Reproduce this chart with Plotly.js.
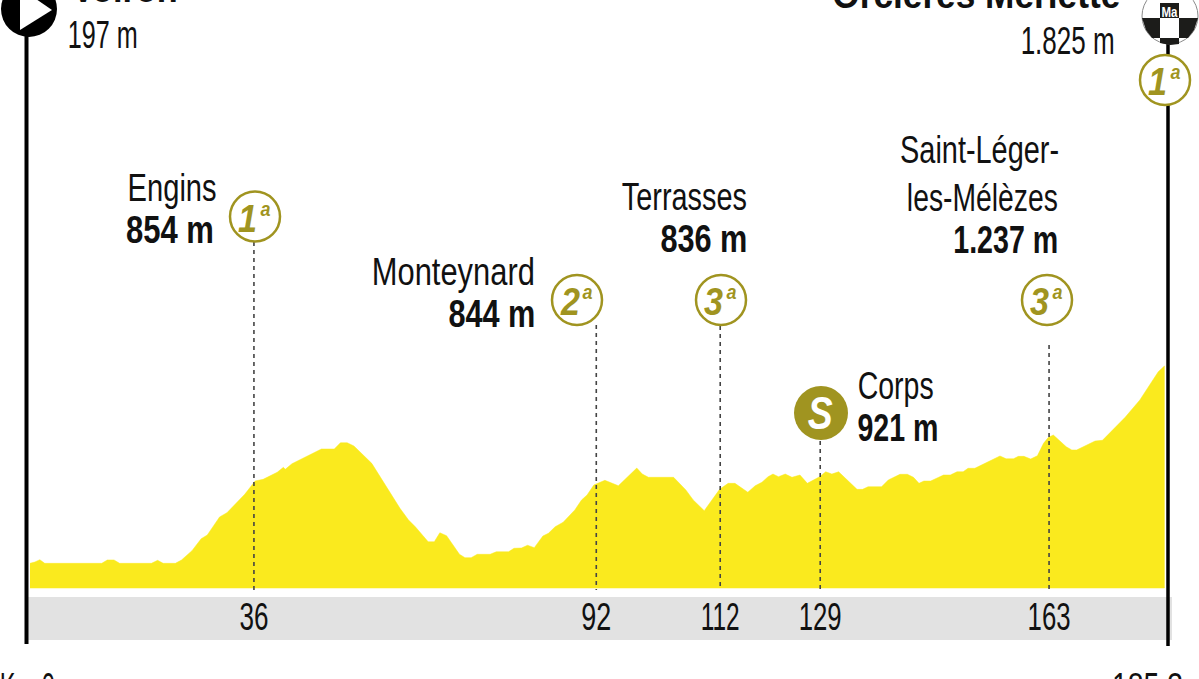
<!DOCTYPE html>
<html>
<head>
<meta charset="utf-8">
<style>
  html, body { margin: 0; padding: 0; background: #fff; overflow: hidden; }
  #data { width: 1199px; height: 679px; }
</style>
<script src="https://cdn.plot.ly/plotly-3.0.1.min.js"></script>
</head>
<body>
<div id="data"></div>
<script>
// profile: distance (km) and altitude (m)
var profileKm = [0, 0.8, 1.6, 2.4, 11.7, 12.6, 13.7, 14.6, 19.8, 20.8, 21.7, 23.7, 24.7, 26.4, 27.9, 28.9, 30.9, 32.1, 35.0, 36.7,
  38.0, 40.3, 41.3, 41.6, 42.7, 47.5, 49.6, 50.6, 51.7, 52.8, 55.7, 58.7, 60.3, 61.7, 62.8, 64.9, 65.9, 66.8, 67.9, 70.0,
  70.9, 71.9, 72.9, 75.0, 76.0, 78.0, 78.9, 80.1, 81.1, 82.2, 83.6, 84.5, 85.6, 86.9, 88.8, 89.9, 90.8, 91.9, 93.7, 95.9,
  98.9, 99.8, 100.8, 104.9, 106.9, 108.1, 109.9, 112.4, 113.8, 114.9, 117.0, 118.2, 119.3, 120.3, 121.1, 122.0, 123.1, 124.2, 125.5, 126.7,
  128.7, 129.7, 130.7, 131.8, 134.8, 135.7, 136.6, 138.8, 139.9, 141.8, 143.0, 144.0, 144.9, 145.7, 146.8, 148.9, 150.0, 151.1, 152.1, 152.9,
  154.0, 158.1, 159.1, 160.3, 161.1, 162.0, 163.1, 164.2, 165.2, 166.0, 166.8, 168.9, 169.8, 170.6, 173.6, 174.8, 178.5, 180.9, 183.9, 184.9];
var profileAlt = [186, 197, 216, 186, 186, 214, 214, 186, 186, 211, 186, 186, 214, 291, 390, 421, 571, 606, 759, 870,
  883, 942, 983, 966, 1013, 1135, 1135, 1187, 1187, 1160, 1016, 780, 643, 546, 490, 365, 365, 440, 415, 261,
  233, 233, 261, 261, 282, 282, 311, 313, 336, 316, 413, 435, 490, 527, 629, 712, 753, 836, 875, 830,
  977, 927, 900, 900, 795, 712, 623, 800, 850, 850, 776, 830, 859, 905, 927, 905, 927, 900, 919, 850,
  905, 946, 927, 946, 800, 800, 822, 822, 878, 925, 925, 900, 850, 869, 869, 919, 919, 946, 946, 975,
  975, 1077, 1054, 1054, 1074, 1074, 1052, 1079, 1182, 1232, 1251, 1154, 1127, 1127, 1201, 1207, 1398, 1542, 1776, 1824];

// waypoints along the profile
var wayKm = [36.5, 92.3, 112.5, 128.8, 166.1];
var wayLabels = ['36', '92', '112', '129', '163'];

var startName = 'Voiron';
var startAlt = '197 m';
var finishName = 'Orcières Merlette';
var finishAlt = '1.825 m';
var distanceStart = 'Km 0';
var distanceEnd = '185,3';

var passNames = ['Engins', 'Monteynard', 'Terrasses', 'Saint-Léger-', 'les-Mélèzes', 'Corps'];
var passAlts = ['854 m', '844 m', '836 m', '1.237 m', '921 m'];
var climbCats = ['1', '2', '3', '3', '1'];

var WIDTH = 1199;
var HEIGHT = 679;
var BASE_ALT = -19;
var FONT = '"Liberation Sans", Arial, sans-serif';
var GOLD = '#a09420';
var INK = '#111111';

// widths the texts get squeezed to, the reference face is very condensed
var textWidths = [];
var tickWidths = [29, 30, 39, 43, 43];

function px_x(value) { return value / WIDTH; }
function px_y(value) { return 1 - value / HEIGHT; }

// left and right are the ink edges of the text in the page
function text_at(text, left, right, y, size, opts) {
  opts = opts || {};
  textWidths.push(right - left);
  return {
    text: text,
    xref: 'paper',
    yref: 'paper',
    x: px_x((left + right) / 2),
    y: px_y(y),
    xanchor: 'center',
    yanchor: 'middle',
    showarrow: false,
    borderpad: 0,
    font: {
      family: FONT,
      size: size,
      color: opts.color || INK,
      weight: opts.weight || 400,
      style: opts.style || 'normal'
    }
  };
}

function bold_at(text, left, right, y, size) {
  return text_at(text, left, right, y, size, { weight: 700 });
}

function line_at(x0, y0, x1, y1, color, width) {
  return {
    type: 'line',
    xref: 'paper',
    yref: 'paper',
    x0: px_x(x0),
    y0: px_y(y0),
    x1: px_x(x1),
    y1: px_y(y1),
    line: { color: color, width: width }
  };
}

function circle_at(cx, cy, r, fill, color, width) {
  return {
    type: 'circle',
    xref: 'paper',
    yref: 'paper',
    x0: px_x(cx - r),
    y0: px_y(cy - r),
    x1: px_x(cx + r),
    y1: px_y(cy + r),
    fillcolor: fill,
    line: { color: color, width: width }
  };
}

function poly_at(points, fill) {
  var path = points.map(function (p, i) {
    var cmd = (i === 0 ? 'M' : 'L');
    return cmd + ' ' + px_x(p[0]) + ',' + px_y(p[1]);
  }).join(' ') + ' Z';
  return {
    type: 'path',
    xref: 'paper',
    yref: 'paper',
    path: path,
    fillcolor: fill,
    line: { width: 0 }
  };
}

function dash_stem(km, top) {
  return {
    type: 'line',
    xref: 'x',
    yref: 'paper',
    x0: km,
    x1: km,
    y0: px_y(top),
    y1: px_y(590),
    line: { color: '#444444', width: 1.6, dash: '4px 4px' }
  };
}

// category number and the small "a" next to it
function badge_text(cat, cx, cy) {
  return [
    text_at(cat, cx - 17, cx + 2, cy + 1, 38, { color: GOLD, weight: 700, style: 'italic' }),
    text_at('a', cx + 5, cx + 15, cy - 9, 20, { color: GOLD, weight: 700, style: 'italic' })
  ];
}

var shapes = [
  // grey distance band
  {
    type: 'rect', xref: 'paper', yref: 'paper', layer: 'below',
    x0: px_x(28), x1: px_x(1172), y0: px_y(597), y1: px_y(640),
    fillcolor: '#e2e2e2', line: { width: 0 }
  },
  dash_stem(wayKm[0], 242),
  dash_stem(wayKm[1], 325),
  dash_stem(wayKm[2], 326),
  dash_stem(wayKm[3], 441),
  dash_stem(wayKm[4], 345),
  line_at(26.5, 30, 26.5, 644, '#000000', 4),
  line_at(1168, 40, 1168, 646, '#000000', 3.5),
  // start icon
  circle_at(29, 9, 28, '#000000', '#000000', 0),
  poly_at([[20, -12], [52, 10], [20, 30]], '#ffffff'),
  // finish icon
  circle_at(1170, 16, 28, '#ffffff', '#8a8a8a', 1),
  poly_at([[1160, 3], [1179, 3], [1179, 18], [1160, 18]], '#1c1c1a'),
  poly_at([[1142, 18], [1160, 18], [1160, 38], [1152, 38], [1146, 30]], '#1c1c1a'),
  poly_at([[1179, 18], [1198, 18], [1194, 30], [1188, 38], [1179, 38]], '#1c1c1a'),
  poly_at([[1160, 38], [1179, 38], [1179, 44], [1170, 45], [1160, 43]], '#1c1c1a'),
  // climb badges
  circle_at(255, 216.5, 25, '#ffffff', GOLD, 2.5),
  circle_at(577, 300, 25, '#ffffff', GOLD, 2.5),
  circle_at(721, 300, 25, '#ffffff', GOLD, 2.5),
  circle_at(1047, 300, 25, '#ffffff', GOLD, 2.5),
  circle_at(1165, 80, 25, '#ffffff', GOLD, 2.5),
  circle_at(821, 413, 27, GOLD, GOLD, 0)
];

var annotations = [
  bold_at(startName, 72, 178, -11, 38),
  text_at(startAlt, 68, 138, 35, 38),
  bold_at(finishName, 832, 1120, -5, 38),
  text_at(finishAlt, 1020, 1114, 41, 38),
  text_at(passNames[0], 127, 216, 188, 38),
  bold_at(passAlts[0], 126, 214, 230, 38),
  text_at(passNames[1], 372, 535, 272, 38),
  bold_at(passAlts[1], 448, 535, 314, 38),
  text_at(passNames[2], 622, 747, 197, 38),
  bold_at(passAlts[2], 660, 747, 239, 38),
  text_at(passNames[3], 900, 1059, 150, 38),
  text_at(passNames[4], 907, 1058, 198, 38),
  bold_at(passAlts[3], 953, 1058, 240, 38),
  text_at(passNames[5], 857, 933, 386, 38),
  bold_at(passAlts[4], 857, 938, 428, 38),
  text_at(distanceStart, 0, 55, 687, 38),
  text_at(distanceEnd, 1112, 1183, 687, 38),
  text_at('Ma', 1161, 1177, 11, 15, { color: '#ffffff', weight: 700 }),
  text_at('S', 808, 833, 413, 46, { color: '#ffffff', weight: 700, style: 'italic' })
].concat(
  badge_text(climbCats[0], 255, 218),
  badge_text(climbCats[1], 577, 301),
  badge_text(climbCats[2], 721, 301),
  badge_text(climbCats[3], 1047, 301),
  badge_text(climbCats[4], 1165, 81)
);

// close the area along the base of the profile
var lastKm = profileKm[profileKm.length - 1];
var fillX = profileKm.concat([lastKm, profileKm[0]]);
var fillY = profileAlt.concat([BASE_ALT, BASE_ALT]);

var trace = {
  x: fillX,
  y: fillY,
  type: 'scatter',
  mode: 'lines',
  fill: 'toself',
  fillcolor: '#faea1e',
  line: { color: '#faea1e', width: 0.5 },
  hoverinfo: 'skip',
  showlegend: false
};

var layout = {
  width: WIDTH,
  height: HEIGHT,
  margin: { l: 0, r: 0, t: 0, b: 0, pad: 0 },
  paper_bgcolor: '#ffffff',
  plot_bgcolor: 'rgba(0,0,0,0)',
  showlegend: false,
  shapes: shapes,
  annotations: annotations,
  xaxis: {
    range: [-4.89, 190.54],
    anchor: 'free',
    position: px_y(591),
    tickmode: 'array',
    tickvals: wayKm,
    ticktext: wayLabels,
    ticks: '',
    showgrid: false,
    zeroline: false,
    showline: false,
    tickfont: { family: FONT, size: 38, color: INK },
    fixedrange: true
  },
  yaxis: {
    range: [-774, 4862],
    visible: false,
    fixedrange: true
  }
};

var config = {
  responsive: false,
  displayModeBar: false
};

function squeeze(node, width) {
  node.setAttribute('textLength', width);
  node.setAttribute('lengthAdjust', 'spacingAndGlyphs');
}

Plotly.newPlot('data', [trace], layout, config).then(function () {
  document.querySelectorAll('.annotation-text').forEach(function (node, i) {
    squeeze(node, textWidths[i]);
  });
  document.querySelectorAll('.xtick text').forEach(function (node, i) {
    squeeze(node, tickWidths[i]);
  });
});
</script>
</body>
</html>
